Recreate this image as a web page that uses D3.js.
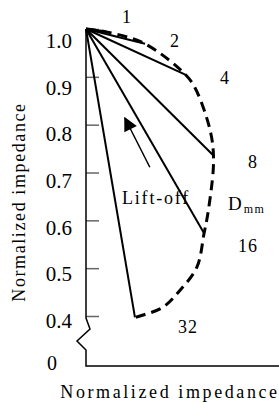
<!DOCTYPE html>
<html>
<head>
<meta charset="utf-8">
<script src="https://cdn.jsdelivr.net/npm/d3@7"></script>
<style>
  body { margin: 0; background: #fff; }
</style>
</head>
<body>
<div id="chart"></div>
<script>
// lift-off distance labels (mm)
var lifts = ["1", "2", "4", "8", "16", "32"];
// end point of each impedance locus (real, imaginary), normalized
var endRe = [0.042, 0.123, 0.208, 0.265, 0.246, 0.102];
var endIm = [0.994, 0.969, 0.904, 0.736, 0.573, 0.397];

// dashed envelope through the end points
var envRe = [0, 0.042, 0.123, 0.208, 0.227, 0.246, 0.260, 0.265, 0.265, 0.254, 0.246, 0.231, 0.196, 0.160, 0.119, 0.102];
var envIm = [1.0, 0.994, 0.969, 0.904, 0.877, 0.831, 0.782, 0.747, 0.705, 0.615, 0.573, 0.502, 0.454, 0.418, 0.402, 0.397];

var yTicks = [0.4, 0.5, 0.6, 0.7, 0.8, 0.9, 1.0];

var width = 279, height = 403;
var serif = '"Liberation Serif", "DejaVu Serif", serif';

var x = d3.scaleLinear().domain([0, 0.4]).range([86, 278]);
var y = d3.scaleLinear().domain([0.4, 1.0]).range([316, 29]);
// tick labels sit a little below their ticks in the original
var yLab = d3.scaleLinear().domain([0.4, 1.0]).range([328, 48]);

var svg = d3.select('#chart').append('svg')
  .attr('width', width)
  .attr('height', height)
  .attr('font-family', serif)
  .style('font-family', serif);

// y axis with inward ticks
var yAxis = d3.axisRight(y).tickValues(yTicks).tickSize(13).tickFormat('');
var gy = svg.append('g').attr('transform', 'translate(' + x(0) + ',0)').call(yAxis);
gy.select('.domain').remove();
gy.selectAll('.tick line').attr('stroke', '#666').attr('stroke-width', 1.5);

// tick labels
svg.selectAll('.ylab').data(yTicks).enter().append('text')
  .attr('class', 'ylab')
  .attr('x', 72)
  .attr('y', function(d) { return yLab(d); })
  .attr('text-anchor', 'end')
  .style('font-size', '21px')
  .text(function(d) { return d.toFixed(1); });

// axis line with a break below 0.4
var x0 = x(0), yb = y(0.4), yz = yb + 50;
svg.append('path')
  .attr('d', 'M' + x0 + ',' + y(1.0) + 'V' + (yb + 2) + 'L' + (x0 + 4) + ',' + (yb + 13) +
    'L' + (x0 - 9) + ',' + (yb + 25) + 'L' + x0 + ',' + (yb + 34) + 'V' + yz + 'H' + width)
  .attr('fill', 'none')
  .attr('stroke', '#000')
  .attr('stroke-width', 1.5);

svg.append('text')
  .attr('x', 57).attr('y', yz + 4)
  .attr('text-anchor', 'end')
  .style('font-size', '20px')
  .text('0');

// axis titles
svg.append('text')
  .attr('x', 170).attr('y', 398)
  .attr('text-anchor', 'middle')
  .style('font-size', '18px')
  .style('letter-spacing', '2.6px')
  .text('Normalized impedance');

svg.append('text')
  .attr('transform', 'translate(25,' + 202 + ') rotate(-90)')
  .attr('text-anchor', 'middle')
  .style('font-size', '18px')
  .style('letter-spacing', '1.6px')
  .text('Normalized impedance');

// straight loci from the origin
svg.selectAll('.locus').data(lifts).enter().append('line')
  .attr('class', 'locus')
  .attr('x1', x(0)).attr('y1', y(1.0))
  .attr('x2', function(d, i) { return x(endRe[i]); })
  .attr('y2', function(d, i) { return y(endIm[i]); })
  .attr('stroke', '#000')
  .attr('stroke-width', function(d, i) { return i === 0 ? 3 : 2; });

// dashed envelope
var env = envRe.map(function(d, i) { return [d, envIm[i]]; });
var line = d3.line()
  .x(function(d) { return x(d[0]); })
  .y(function(d) { return y(d[1]); })
  .curve(d3.curveCatmullRom);
svg.append('path')
  .datum(env)
  .attr('d', line)
  .attr('fill', 'none')
  .attr('stroke', '#000')
  .attr('stroke-width', 3)
  .attr('stroke-dasharray', '10,6');

// lift-off arrow
svg.append('defs').append('marker')
  .attr('id', 'arr')
  .attr('viewBox', '0 0 10 10')
  .attr('refX', 9).attr('refY', 5)
  .attr('markerWidth', 17).attr('markerHeight', 14)
  .attr('markerUnits', 'userSpaceOnUse')
  .attr('orient', 'auto')
  .append('path').attr('d', 'M0,0L10,5L0,10Z').attr('fill', '#000');

svg.append('line')
  .attr('x1', x(0.133)).attr('y1', y(0.711))
  .attr('x2', x(0.081)).attr('y2', y(0.814))
  .attr('stroke', '#000')
  .attr('stroke-width', 1.5)
  .attr('marker-end', 'url(#arr)');

svg.append('text')
  .attr('x', 122).attr('y', 204)
  .style('font-size', '18px')
  .style('letter-spacing', '1.8px')
  .text('Lift-off');

// lift-off labels
var labelXY = [[127, 23], [175, 47], [225, 84], [253, 168], [248, 252], [188, 333]];
svg.selectAll('.lab').data(lifts).enter().append('text')
  .attr('class', 'lab')
  .attr('x', function(d, i) { return labelXY[i][0]; })
  .attr('y', function(d, i) { return labelXY[i][1]; })
  .attr('text-anchor', 'middle')
  .style('font-size', '18px')
  .style('letter-spacing', '1px')
  .text(function(d) { return d; });

var dm = svg.append('text').attr('x', 228).attr('y', 210).style('font-size', '19px');
dm.append('tspan').text('D');
dm.append('tspan').attr('dx', 2).attr('dy', 3).style('font-size', '12px').style('letter-spacing', '1.5px').text('mm');
</script>
</body>
</html>
